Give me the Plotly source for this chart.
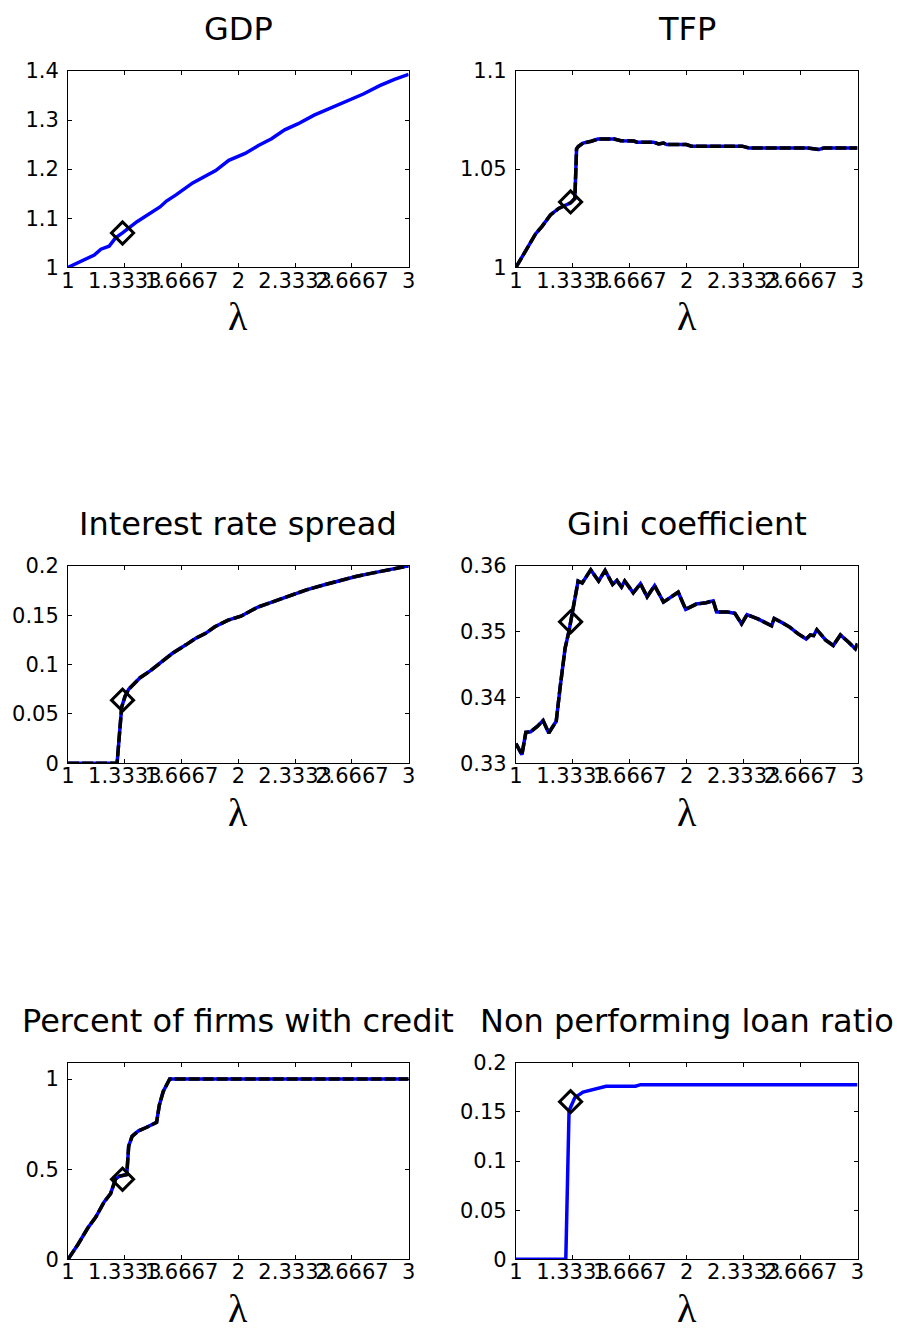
import plotly.graph_objects as go

W, H = 897, 1340

# x axis (lambda) ticks shared by all panels
lam_ticks = [1, 4 / 3, 5 / 3, 2, 7 / 3, 8 / 3, 3]
lam_tick_text = ["1", "1.3333", "1.6667", "2", "2.3333", "2.6667", "3"]

# benchmark lambda highlighted with a diamond
lam_star = 1.32

# GDP
lam_gdp = [1.0, 1.154, 1.193, 1.241, 1.279, 1.32, 1.405, 1.482, 1.54, 1.578, 1.636,
           1.732, 1.809, 1.867, 1.944, 2.04, 2.118, 2.195, 2.272, 2.349, 2.445, 2.561,
           2.657, 2.734, 2.83, 2.917, 3.0]
gdp = [1.0, 1.025, 1.037, 1.043, 1.06, 1.07, 1.093, 1.11, 1.123, 1.135, 1.148,
       1.172, 1.187, 1.197, 1.218, 1.232, 1.248, 1.262, 1.28, 1.292, 1.31, 1.328,
       1.343, 1.353, 1.37, 1.383, 1.393]
gdp_star = 1.070

# TFP
lam_tfp = [1.0, 1.058, 1.115, 1.154, 1.202, 1.25, 1.288, 1.32, 1.345, 1.355, 1.365,
           1.393, 1.441, 1.48, 1.576, 1.614, 1.69, 1.71, 1.806, 1.835, 1.864, 1.883,
           1.998, 2.027, 2.324, 2.363, 2.708, 2.737, 2.775, 2.804, 3.0]
tfp = [1.0, 1.009, 1.017, 1.021, 1.0267, 1.03, 1.0317, 1.0328, 1.035, 1.0603, 1.0615,
       1.0633, 1.0642, 1.0653, 1.0653, 1.0645, 1.0643, 1.0637, 1.0637, 1.0628, 1.0633, 1.0625,
       1.0625, 1.0617, 1.0617, 1.0608, 1.0608, 1.0603, 1.06, 1.0608, 1.0608]
tfp_star = 1.0333

# Interest rate spread
lam_spr = [1.0, 1.288, 1.315, 1.335, 1.356, 1.375, 1.423, 1.48, 1.538, 1.615, 1.692,
           1.75, 1.808, 1.862, 1.94, 2.015, 2.115, 2.21, 2.308, 2.4, 2.5, 2.592,
           2.69, 2.785, 2.885, 3.0]
spread = [0.0, 0.0, 0.057, 0.068, 0.075, 0.0783, 0.0867, 0.0933, 0.1017, 0.1117, 0.12,
          0.1267, 0.1317, 0.1383, 0.145, 0.149, 0.1583, 0.1643, 0.1707, 0.1757, 0.1807, 0.185,
          0.1893, 0.1927, 0.196, 0.2]
spread_star = 0.064

# Gini coefficient
lam_gini = [1.0, 1.035, 1.058, 1.086, 1.125, 1.159, 1.192, 1.236, 1.259, 1.288, 1.31,
            1.345, 1.364, 1.388, 1.438, 1.484, 1.522, 1.566, 1.591, 1.618, 1.637, 1.687,
            1.729, 1.768, 1.812, 1.864, 1.902, 1.95, 1.994, 2.056, 2.113, 2.155, 2.175,
            2.238, 2.282, 2.321, 2.353, 2.42, 2.497, 2.512, 2.564, 2.603, 2.651, 2.699,
            2.724, 2.743, 2.762, 2.814, 2.858, 2.9, 2.948, 2.987, 3.0]
gini = [0.333, 0.3313, 0.3347, 0.3348, 0.3356, 0.3365, 0.3346, 0.3364, 0.3416, 0.3475, 0.35,
        0.355, 0.3577, 0.3574, 0.3594, 0.3577, 0.3593, 0.3572, 0.3578, 0.3568, 0.3577, 0.3559,
        0.3573, 0.3553, 0.357, 0.3545, 0.3552, 0.356, 0.3534, 0.3542, 0.3544, 0.3547, 0.353,
        0.353, 0.3528, 0.3512, 0.3526, 0.3519, 0.3509, 0.352, 0.3513, 0.3507, 0.3497, 0.3489,
        0.3495, 0.3494, 0.3503, 0.3487, 0.3479, 0.3495, 0.3484, 0.3474, 0.3482]
gini_star = 0.3515

# Percent of firms with credit
lam_pct = [1.0, 1.058, 1.116, 1.164, 1.212, 1.25, 1.279, 1.30, 1.345, 1.356, 1.376,
           1.414, 1.459, 1.52, 1.536, 1.559, 1.597, 3.0]
pct_credit = [0.0, 0.082, 0.173, 0.236, 0.318, 0.364, 0.445, 0.46, 0.47, 0.627, 0.682,
              0.713, 0.731, 0.76, 0.855, 0.931, 1.0, 1.0]
pct_star = 0.444

# Non performing loan ratio
lam_npl = [1.0, 1.292, 1.311, 1.345, 1.393, 1.46, 1.528, 1.70, 1.73, 3.0]
npl = [0.0, 0.0, 0.1513, 0.1646, 0.1702, 0.1735, 0.1762, 0.1762, 0.1778, 0.1778]
npl_star = 0.1605

panels = [
    dict(title="GDP", lam=lam_gdp, y=gdp, star=gdp_star, dashed=False,
         yrange=[1, 1.4], yticks=[1, 1.1, 1.2, 1.3, 1.4],
         ytext=["1", "1.1", "1.2", "1.3", "1.4"]),
    dict(title="TFP", lam=lam_tfp, y=tfp, star=tfp_star, dashed=True,
         yrange=[1, 1.1], yticks=[1, 1.05, 1.1], ytext=["1", "1.05", "1.1"]),
    dict(title="Interest rate spread", lam=lam_spr, y=spread, star=spread_star, dashed=True,
         yrange=[0, 0.2], yticks=[0, 0.05, 0.1, 0.15, 0.2],
         ytext=["0", "0.05", "0.1", "0.15", "0.2"]),
    dict(title="Gini coefficient", lam=lam_gini, y=gini, star=gini_star, dashed=True,
         yrange=[0.33, 0.36], yticks=[0.33, 0.34, 0.35, 0.36],
         ytext=["0.33", "0.34", "0.35", "0.36"]),
    dict(title="Percent of firms with credit", lam=lam_pct, y=pct_credit, star=pct_star,
         dashed=True, yrange=[0, 1.09], yticks=[0, 0.5, 1], ytext=["0", "0.5", "1"]),
    dict(title="Non performing loan ratio", lam=lam_npl, y=npl, star=npl_star, dashed=False,
         yrange=[0, 0.2], yticks=[0, 0.05, 0.1, 0.15, 0.2],
         ytext=["0", "0.05", "0.1", "0.15", "0.2"]),
]

# panel frames in pixels: columns (left, right), rows (top, bottom)
cols_px = [(62, 408), (517, 864)]
rows_px = [(60, 260), (564, 765), (1070, 1270)]

TICK_FONT = dict(family="DejaVu Sans, sans-serif", size=21, color="black")
TITLE_FONT = dict(family="DejaVu Sans, sans-serif", size=32, color="black")
LAMBDA_FONT = dict(family="Liberation Serif, Times New Roman, serif", size=40, color="black")

fig = go.Figure()
layout = dict(width=W, height=H, margin=dict(l=0, r=0, t=0, b=0),
              paper_bgcolor="white", plot_bgcolor="white", showlegend=False,
              annotations=[])

for i, p in enumerate(panels):
    k = i + 1
    r, c = divmod(i, 2)
    x0, x1 = cols_px[c]
    top, bot = rows_px[r]
    xs = "" if k == 1 else str(k)
    xa, ya = "x" + xs, "y" + xs

    fig.add_trace(go.Scatter(x=p["lam"], y=p["y"], mode="lines", xaxis=xa, yaxis=ya,
                             line=dict(color="#0000ff", width=3.5), hoverinfo="skip"))
    if p["dashed"]:
        fig.add_trace(go.Scatter(x=p["lam"], y=p["y"], mode="lines", xaxis=xa, yaxis=ya,
                                 line=dict(color="black", width=3.5, dash="11px,3px"),
                                 hoverinfo="skip"))
    fig.add_trace(go.Scatter(x=[lam_star], y=[p["star"]], mode="markers", xaxis=xa, yaxis=ya,
                             cliponaxis=False,
                             marker=dict(symbol="diamond-open", size=17, color="black",
                                         line=dict(color="black", width=3))))

    common = dict(showline=True, linecolor="black", linewidth=1, mirror="ticks",
                  ticks="inside", ticklen=4, tickwidth=1, tickcolor="black",
                  showgrid=False, zeroline=False, tickfont=TICK_FONT, tickangle=0)
    layout["xaxis" + xs] = dict(domain=[x0 / W, x1 / W], range=[1, 3], anchor=ya,
                                tickmode="array", tickvals=lam_ticks, ticktext=lam_tick_text,
                                ticklabelstandoff=-6, **common)
    layout["yaxis" + xs] = dict(domain=[1 - bot / H, 1 - top / H], range=p["yrange"],
                                anchor=xa, tickmode="array", tickvals=p["yticks"],
                                ticktext=p["ytext"], ticklabelstandoff=4, **common)

    cx = (x0 + x1) / 2 / W
    layout["annotations"].append(dict(text=p["title"], x=cx, y=1 - (top - 43) / H,
                                      xref="paper", yref="paper", xanchor="center",
                                      yanchor="middle", showarrow=False, font=TITLE_FONT))
    layout["annotations"].append(dict(text="λ", x=cx, y=1 - (bot + 50) / H,
                                      xref="paper", yref="paper", xanchor="center",
                                      yanchor="middle", showarrow=False, font=LAMBDA_FONT))

fig.update_layout(**layout)
fig.write_html("out.html")
